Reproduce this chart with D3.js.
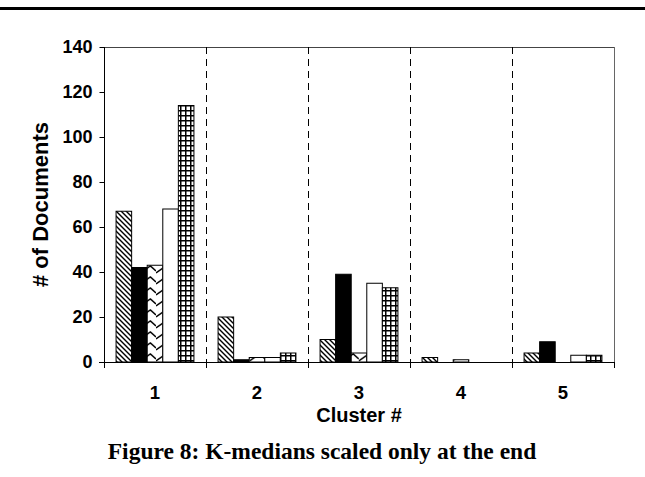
<!DOCTYPE html>
<html><head><meta charset="utf-8">
<script src="https://cdn.jsdelivr.net/npm/d3@7"></script>
<style>body{margin:0;background:#fff}svg{display:block}</style>
</head><body>
<script>
const clusters = ["1","2","3","4","5"];
const seriesNames = ["s1","s2","s3","s4","s5"];
const s1 = [67, 20, 10, 2, 4];
const s2 = [42, 1, 39, 0, 9];
const s3 = [43, 2, 4, 1, 0];
const s4 = [68, 2, 35, 0, 3];
const s5 = [114, 4, 33, 0, 3];
const yTicks = [0,20,40,60,80,100,120,140];
const xTitle = "Cluster #";
const yTitle = "# of Documents";
const caption = "Figure 8: K-medians scaled only at the end";

const allSeries = [s1,s2,s3,s4,s5];
const W = 645, H = 477;
const svg = d3.select("body").append("svg").attr("width",W).attr("height",H);
const defs = svg.append("defs");

// patterns
const p1 = defs.append("pattern").attr("id","pDiag").attr("patternUnits","userSpaceOnUse").attr("width",5).attr("height",5);
p1.append("rect").attr("width",5).attr("height",5).attr("fill","#fff");
p1.append("path").attr("d","M0,0 L5,5 M-1,4 L1,6 M4,-1 L6,1").attr("stroke","#000").attr("stroke-width",1.4);

const p3 = defs.append("pattern").attr("id","pZig").attr("patternUnits","userSpaceOnUse").attr("width",15.6).attr("height",11);
p3.append("rect").attr("width",15.6).attr("height",11).attr("fill","#fff");
p3.append("path").attr("d","M0,9 L10,2 L15.6,7").attr("stroke","#000").attr("stroke-width",1.5).attr("fill","none");

const p5 = defs.append("pattern").attr("id","pGrid").attr("patternUnits","userSpaceOnUse").attr("width",5).attr("height",5);
p5.append("rect").attr("width",5).attr("height",5).attr("fill","#fff");
p5.append("path").attr("d","M0,0.75 H5 M0.75,0 V5").attr("stroke","#000").attr("stroke-width",1.5);

const fills = ["url(#pDiag)","#000","url(#pZig)","#fff","url(#pGrid)"];

const L = 104, R = 614, T = 47, B = 362;
const x0 = d3.scaleBand().domain(clusters).range([L,R]).paddingInner(0).paddingOuter(0);
const x1 = d3.scaleBand().domain(seriesNames).range([0,x0.bandwidth()]).paddingOuter(0.775).paddingInner(0);
const y = d3.scaleLinear().domain([0,140]).range([B,T]);

// top rule
svg.append("rect").attr("x",0).attr("y",7).attr("width",W).attr("height",3).attr("fill","#000");

// plot frame top/right
svg.append("line").attr("x1",L).attr("x2",R).attr("y1",T+0.5).attr("y2",T+0.5).attr("stroke","#444").attr("stroke-width",1);
svg.append("line").attr("x1",R+0.5).attr("x2",R+0.5).attr("y1",T).attr("y2",B).attr("stroke","#666").attr("stroke-width",1);

// dashed dividers
clusters.slice(1).forEach(c=>{
  const xx = Math.round(x0(c))+0.5;
  svg.append("line").attr("x1",xx).attr("x2",xx).attr("y1",T).attr("y2",B)
    .attr("stroke","#000").attr("stroke-width",1).attr("stroke-dasharray","7,5");
});

// bars
const g = svg.append("g");
clusters.forEach((c,i)=>{
  allSeries.forEach((s,j)=>{
    const v = s[i];
    if (v<=0) return;
    g.append("rect")
      .attr("x", x0(c)+x1(seriesNames[j]))
      .attr("y", y(v))
      .attr("width", x1.bandwidth())
      .attr("height", B - y(v))
      .attr("fill", fills[j])
      .attr("stroke","#000").attr("stroke-width",1);
  });
});

// y axis
const yAxis = d3.axisLeft(y).tickValues(yTicks).tickSize(5).tickPadding(7);
const ya = svg.append("g").attr("transform",`translate(${L+0.5},0)`).call(yAxis);
ya.select(".domain").attr("stroke","#000").attr("d",`M0,${T}V${B}`);
ya.selectAll(".tick line").attr("stroke","#000");
ya.selectAll("text").attr("font-family","Liberation Sans, Arial, sans-serif").attr("font-weight","bold").attr("font-size",18).attr("fill","#000");

// x axis baseline
svg.append("line").attr("x1",L-5).attr("x2",R).attr("y1",B+0.5).attr("y2",B+0.5).attr("stroke","#000");
// x boundary ticks
x0.domain().concat(["end"]).forEach((c,i)=>{
  const xx = Math.round(i<5 ? x0(c) : R)+0.5;
  svg.append("line").attr("x1",xx).attr("x2",xx).attr("y1",B).attr("y2",B+6).attr("stroke","#000");
});
// x labels
clusters.forEach(c=>{
  svg.append("text").attr("x",x0(c)+x0.bandwidth()/2).attr("y",399)
    .attr("text-anchor","middle").attr("font-family","Liberation Sans, Arial, sans-serif")
    .attr("font-weight","bold").attr("font-size",18.5).text(c);
});
svg.append("text").attr("x",(L+R)/2).attr("y",422).attr("text-anchor","middle")
  .attr("font-family","Liberation Sans, Arial, sans-serif").attr("font-weight","bold").attr("font-size",20).text(xTitle);
svg.append("text").attr("transform",`translate(48,${(T+B)/2}) rotate(-90)`).attr("text-anchor","middle")
  .attr("font-family","Liberation Sans, Arial, sans-serif").attr("font-weight","bold").attr("font-size",22).text(yTitle);

svg.append("text").attr("x",322).attr("y",459).attr("text-anchor","middle")
  .attr("font-family","Liberation Serif, Times New Roman, serif").attr("font-weight","bold").attr("font-size",23.5).text(caption);
</script>
</body></html>
